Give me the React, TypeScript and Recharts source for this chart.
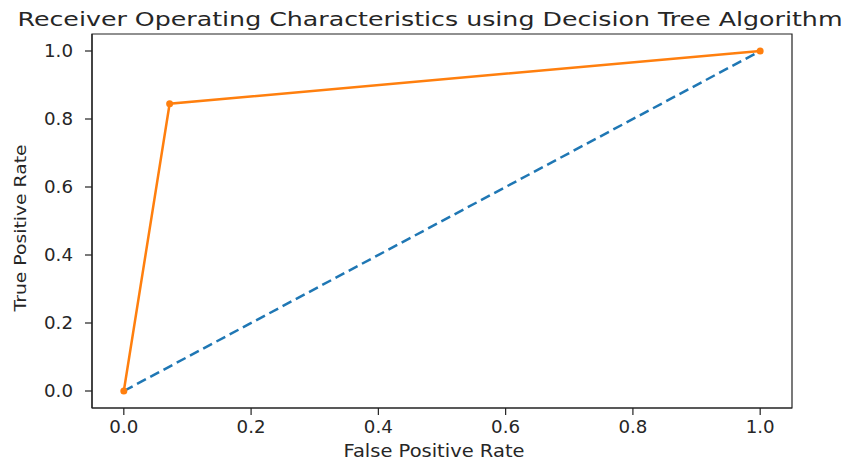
import React from "react";
import { LineChart, Line, XAxis, YAxis, Label, ReferenceArea } from "recharts";

const chanceFpr = [0, 1];
const chanceTpr = [0, 1];
const treeFpr = [0, 0.072, 1];
const treeTpr = [0, 0.845, 1];
const xTicks = [0, 0.2, 0.4, 0.6, 0.8, 1.0];
const yTicks = [0, 0.2, 0.4, 0.6, 0.8, 1.0];
const title = "Receiver Operating Characteristics using Decision Tree Algorithm";
const xLabel = "False Positive Rate";
const yLabel = "True Positive Rate";

const chanceData = chanceFpr.map((x, i) => ({ x, y: chanceTpr[i] }));
const treeData = treeFpr.map((x, i) => ({ x, y: treeTpr[i] }));

const FONT = "'DejaVu Sans', sans-serif";
const TEXT = "#262626";
const SPINE = "#222";

const XTick = (props: any) => {
  const { x, y, payload } = props;
  return (
    <text
      x={x}
      y={y}
      dy={12}
      textAnchor="middle"
      fontFamily={FONT}
      fontSize={17}
      textLength={29}
      lengthAdjust="spacingAndGlyphs"
      fill={TEXT}
    >
      {Number(payload.value).toFixed(1)}
    </text>
  );
};

const YTick = (props: any) => {
  const { x, y, payload } = props;
  return (
    <text
      x={x}
      y={y}
      dy={6}
      textAnchor="end"
      fontFamily={FONT}
      fontSize={17}
      textLength={29}
      lengthAdjust="spacingAndGlyphs"
      fill={TEXT}
    >
      {Number(payload.value).toFixed(1)}
    </text>
  );
};

export default function App() {
  return (
    <div style={{ position: "absolute", left: 0, top: 0, width: 858, height: 463, background: "#fff" }}>
      <LineChart
        width={858}
        height={463}
        margin={{ top: 34, right: 66, left: 0, bottom: 0 }}
      >
        <XAxis
          type="number"
          dataKey="x"
          domain={[-0.05, 1.05]}
          allowDataOverflow
          ticks={xTicks}
          interval={0}
          height={55}
          tickSize={7}
          tickMargin={6}
          tick={<XTick />}
          tickLine={{ stroke: SPINE, strokeWidth: 1.2 }}
          axisLine={{ stroke: SPINE, strokeWidth: 1.2 }}
        >
          <Label
            content={(p: any) => {
              const vb = p.viewBox;
              return (
                <text
                  x={vb.x + vb.width / 2 - 8}
                  y={vb.y + 49}
                  textAnchor="middle"
                  fontFamily={FONT}
                  fontSize={17}
                  textLength={181}
                  lengthAdjust="spacingAndGlyphs"
                  fill={TEXT}
                >
                  {xLabel}
                </text>
              );
            }}
          />
        </XAxis>
        <YAxis
          type="number"
          dataKey="y"
          domain={[-0.05, 1.05]}
          allowDataOverflow
          ticks={yTicks}
          interval={0}
          width={92}
          tickSize={7}
          tickMargin={12}
          tick={<YTick />}
          tickLine={{ stroke: SPINE, strokeWidth: 1.2 }}
          axisLine={{ stroke: SPINE, strokeWidth: 1.2 }}
        >
          <Label
            content={(p: any) => {
              const vb = p.viewBox;
              const cx = 26;
              const cy = vb.y + vb.height / 2 + 7;
              return (
                <text
                  x={cx}
                  y={cy}
                  transform={`rotate(-90 ${cx} ${cy})`}
                  textAnchor="middle"
                  fontFamily={FONT}
                  fontSize={16}
                  textLength={167}
                  lengthAdjust="spacingAndGlyphs"
                  fill={TEXT}
                >
                  {yLabel}
                </text>
              );
            }}
          />
        </YAxis>
        <ReferenceArea
          x1={-0.05}
          x2={1.05}
          y1={-0.05}
          y2={1.05}
          fill="none"
          fillOpacity={0}
          stroke={SPINE}
          strokeWidth={1.2}
          ifOverflow="visible"
        />
        <Line
          data={chanceData}
          dataKey="y"
          type="linear"
          stroke="#1f77b4"
          strokeWidth={2.5}
          strokeDasharray="10 5"
          dot={false}
          isAnimationActive={false}
        />
        <Line
          data={treeData}
          dataKey="y"
          type="linear"
          stroke="#ff7f0e"
          strokeWidth={2.5}
          dot={{ r: 3.5, fill: "#ff7f0e", stroke: "#ff7f0e", strokeWidth: 0 }}
          isAnimationActive={false}
        />
      </LineChart>
      <svg
        width={858}
        height={32}
        style={{ position: "absolute", left: 0, top: 0, pointerEvents: "none" }}
      >
        <text
          x={430}
          y={26}
          textAnchor="middle"
          fontFamily={FONT}
          fontSize={20}
          textLength={825}
          lengthAdjust="spacingAndGlyphs"
          fill={TEXT}
        >
          {title}
        </text>
      </svg>
    </div>
  );
}
